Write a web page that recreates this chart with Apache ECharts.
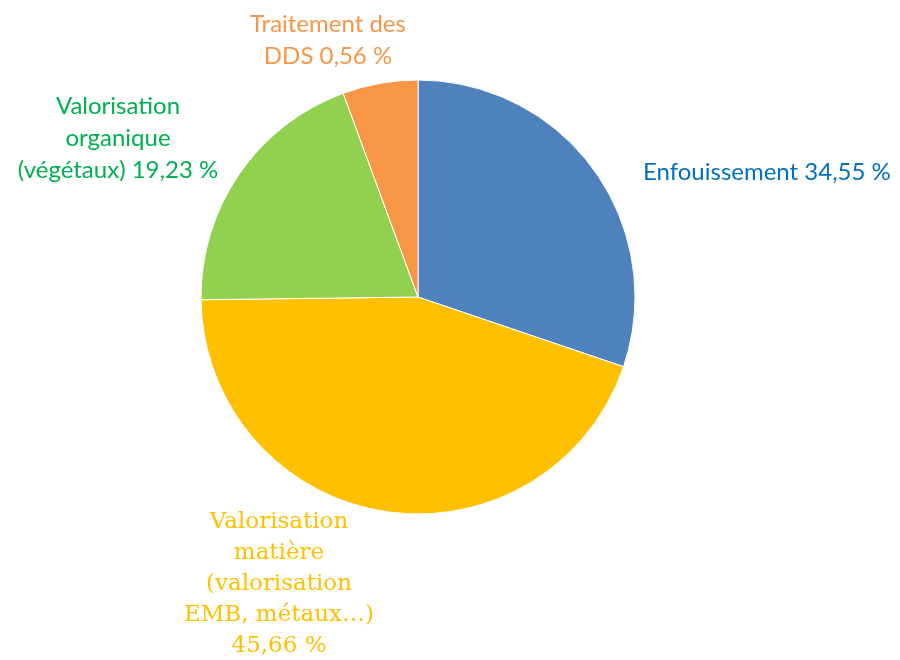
<!DOCTYPE html>
<html>
<head>
<meta charset="utf-8">
<style>
  html, body { margin: 0; padding: 0; background: #fff; }
  #chart { width: 900px; height: 660px; }
</style>
<script src="https://cdn.jsdelivr.net/npm/echarts@6/dist/echarts.min.js"></script>
</head>
<body>
<div id="chart"></div>
<script>
// slice sizes as drawn in the picture (clockwise from 12 o'clock)
const categories = ['Enfouissement', 'Valorisation matière', 'Valorisation organique', 'Traitement des DDS']
const sliceValues = [30.2, 44.6, 19.6, 5.6]
const labelTexts = [
  'Enfouissement 34,55 %',
  'Valorisation\nmatière\n(valorisation\nEMB, métaux…)\n45,66 %',
  'Valorisation\norganique\n(végétaux) 19,23 %',
  'Traitement des\nDDS 0,56 %'
]
const sliceColors = ['#4F81BD', '#FFC000', '#92D050', '#F79646']
const labelColors = ['#0070C0', '#FFC000', '#00B050', '#F79646']

// where each label sits (x, y, align)
const labelPos = [
  [643, 172, 'left'],
  [279, 584, 'center'],
  [118, 138, 'center'],
  [328, 40, 'center']
]

const chart = echarts.init(document.getElementById('chart'))

chart.setOption({
  animation: false,
  series: [
    {
      type: 'pie',
      center: [418, 297],
      radius: 217,
      startAngle: 90,
      clockwise: true,
      data: categories.map((name, i) => ({
        name,
        value: sliceValues[i],
        itemStyle: { color: sliceColors[i] },
        label: {
          formatter: labelTexts[i],
          color: labelColors[i],
          fontFamily: i === 1 ? 'DejaVu Serif' : 'Lato',
          fontSize: i === 1 ? 23 : 24,
          lineHeight: i === 1 ? 31 : 32,
          align: 'center'
        }
      })),
      itemStyle: { borderColor: '#fff', borderWidth: 1 },
      label: { show: true, position: 'outside', overflow: 'none', width: 400 },
      labelLine: { show: false },
      labelLayout(params) {
        const p = labelPos[params.dataIndex]
        return { x: p[0], y: p[1], align: p[2], verticalAlign: 'middle' }
      }
    }
  ]
})
</script>
</body>
</html>
